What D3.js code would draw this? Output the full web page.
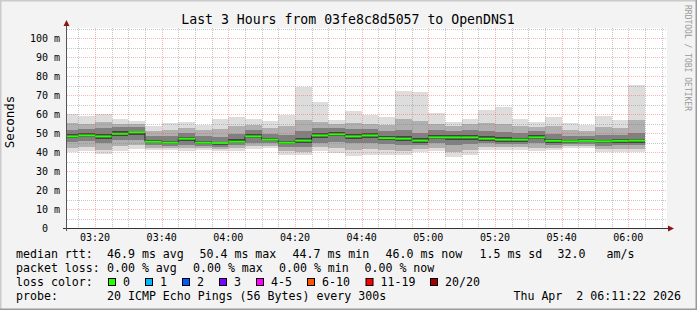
<!DOCTYPE html>
<html>
<head>
<meta charset="utf-8">
<script src="https://cdn.jsdelivr.net/npm/d3@7"></script>
<style>
  body { margin: 0; background: #f3f3f3; }
  svg { display: block; }
  text { font-family: "DejaVu Sans Mono", monospace; white-space: pre; fill: #000; }
</style>
</head>
<body>
<script>
// 5 minute steps, each value is the step ending at that slot
const slotStart = new Date(Date.UTC(2026, 3, 2, 3, 10));
const slotCount = 35;

const rttMedian = [48.2, 48.7, 48.2, 49.6, 50.4, 45.4, 44.9, 47.0, 44.9, 44.7, 45.4, 48.2, 46.5, 44.9, 46.0, 48.7, 49.3, 48.2, 48.7, 47.3, 47.0, 46.0, 47.7, 47.7, 47.7, 47.0, 46.5, 46.5, 47.7, 45.9, 45.6, 45.9, 45.6, 45.9, 46.0];
const rttMin = [40.0, 40.3, 38.9, 40.3, 41.7, 41.2, 41.2, 40.7, 40.9, 40.3, 40.7, 41.5, 42.1, 38.6, 38.6, 40.3, 39.5, 37.7, 38.6, 38.6, 38.6, 39.8, 40.3, 37.2, 38.6, 41.2, 41.2, 41.2, 40.3, 41.2, 42.1, 42.1, 40.0, 40.0, 40.0];
const rttMax = [60.1, 58.7, 59.8, 57.4, 56.5, 53.5, 55.2, 55.6, 54.4, 57.5, 58.4, 57.5, 56.1, 59.3, 74.0, 66.5, 57.0, 61.7, 59.3, 58.2, 72.3, 71.7, 60.6, 55.8, 57.5, 62.3, 63.9, 57.5, 55.7, 58.2, 55.2, 54.0, 59.1, 57.0, 75.4];
const rttP10 = [42.3, 42.8, 41.2, 43.0, 43.5, 42.3, 42.2, 42.0, 42.0, 41.5, 42.0, 43.0, 43.2, 40.5, 40.0, 42.5, 42.0, 41.0, 41.5, 41.0, 40.5, 41.5, 42.0, 40.0, 41.0, 42.5, 42.5, 42.5, 42.0, 42.3, 43.0, 43.0, 41.5, 41.5, 41.5];
const rttP25 = [45.3, 45.8, 44.5, 46.2, 46.5, 43.6, 43.2, 43.8, 43.2, 42.8, 43.5, 45.0, 44.5, 42.5, 42.5, 45.0, 45.5, 44.5, 45.0, 44.0, 43.5, 43.5, 44.5, 43.5, 44.0, 44.5, 44.0, 44.0, 44.5, 43.8, 44.0, 44.2, 43.3, 43.5, 43.5];
const rttP40 = [47.3, 47.8, 47.0, 48.5, 49.2, 44.8, 44.3, 46.0, 44.3, 43.9, 44.8, 47.2, 45.8, 44.0, 45.0, 47.5, 48.3, 47.0, 47.6, 46.3, 46.0, 45.0, 46.6, 46.5, 46.5, 46.0, 45.5, 45.5, 46.7, 45.0, 45.0, 45.2, 44.8, 45.0, 45.0];
const rttP60 = [49.3, 49.8, 49.5, 50.8, 51.2, 46.4, 46.0, 48.0, 46.0, 45.5, 46.8, 49.3, 47.5, 46.0, 47.5, 50.0, 50.3, 49.5, 49.8, 48.5, 48.3, 47.2, 48.8, 48.8, 49.0, 48.2, 47.8, 47.6, 48.8, 47.0, 46.5, 46.8, 46.5, 46.8, 47.0];
const rttP75 = [51.8, 52.3, 52.8, 53.0, 53.3, 48.3, 48.2, 50.0, 48.5, 48.0, 49.5, 51.5, 49.5, 49.0, 51.0, 52.5, 52.5, 52.0, 52.0, 51.0, 51.5, 50.0, 51.5, 51.0, 51.5, 51.0, 50.5, 50.0, 50.8, 49.5, 48.5, 48.5, 49.0, 49.0, 50.0];
const rttP90 = [55.2, 55.0, 56.0, 55.0, 55.0, 51.0, 51.5, 52.5, 51.5, 52.0, 53.5, 54.0, 52.5, 53.5, 57.0, 56.0, 54.5, 55.5, 55.0, 54.0, 57.5, 56.5, 55.0, 53.5, 54.5, 55.5, 55.0, 53.5, 53.0, 53.5, 51.5, 51.0, 53.0, 52.5, 57.0];

const yTicks = [0, 10, 20, 30, 40, 50, 60, 70, 80, 90, 100];
const lossLabels = ["0", "1", "2", "3", "4-5", "6-10", "11-19", "20/20"];
const lossColors = ["#26ff00", "#00b8ff", "#0059ff", "#7e00ff", "#ff00ff", "#ff5500", "#ff0000", "#a10000"];
const statsRtt = ["46.9 ms avg", "50.4 ms max", "44.7 ms min", "46.0 ms now", "1.5 ms sd", "32.0", "am/s"];
const statsLoss = ["0.00 % avg", "0.00 % max", "0.00 % min", "0.00 % now"];

const width = 697, height = 310;
const plotL = 67, plotR = 667, plotT = 28, plotB = 228;

const svg = d3.select("body").append("svg")
    .attr("width", width)
    .attr("height", height);

// frame
svg.append("rect").attr("width", width).attr("height", height).attr("fill", "#f3f3f3");
svg.append("path").attr("d", `M0,${height} V0 H${width}`).attr("fill", "none")
    .attr("stroke", "#cbcbcb").attr("stroke-width", 3);
svg.append("path").attr("d", `M0,${height} H${width} V0`).attr("fill", "none")
    .attr("stroke", "#999999").attr("stroke-width", 3);

const t0 = new Date(Date.UTC(2026, 3, 2, 3, 11, 36));
const t1 = new Date(Date.UTC(2026, 3, 2, 6, 11, 36));
const x = d3.scaleUtc().domain([t0, t1]).range([plotL, plotR]);
const y = d3.scaleLinear().domain([0, 200 / 1.9]).range([plotB, plotT]);

svg.append("rect").attr("x", plotL).attr("y", plotT)
    .attr("width", plotR - plotL).attr("height", plotB - plotT).attr("fill", "#ffffff");

const slots = d3.range(slotCount).map(i => {
    const end = d3.utcMinute.offset(slotStart, 5 * (i + 1));
    const start = d3.utcMinute.offset(end, -5);
    return {
        x0: Math.max(x(start), plotL), x1: x(end),
        med: rttMedian[i],
        bands: [[rttMin[i], rttMax[i]], [rttP10[i], rttP90[i]], [rttP25[i], rttP75[i]], [rttP40[i], rttP60[i]]]
    };
});

const bandColors = ["#dddddd", "#b0b0b0", "#808080", "#444444"];

const smoke = svg.append("g").attr("shape-rendering", "crispEdges");
bandColors.forEach((c, b) => {
    smoke.selectAll(null)
        .data(slots)
        .enter()
        .append("rect")
        .attr("x", d => d.x0)
        .attr("width", d => d.x1 - d.x0)
        .attr("y", d => y(d.bands[b][1]))
        .attr("height", d => y(d.bands[b][0]) - y(d.bands[b][1]))
        .attr("fill", c);
});

// thin dark median step line, then coloured median on top
const stepPts = [];
slots.forEach(d => { stepPts.push([d.x0, y(d.med)]); stepPts.push([d.x1, y(d.med)]); });
svg.append("path")
    .attr("d", d3.line()(stepPts))
    .attr("fill", "none").attr("stroke", "#202020").attr("stroke-width", 1);

svg.append("g").selectAll("line")
    .data(slots)
    .enter()
    .append("line")
    .attr("x1", d => d.x0).attr("x2", d => d.x1)
    .attr("y1", d => y(d.med)).attr("y2", d => y(d.med))
    .attr("stroke", lossColors[0]).attr("stroke-width", 2);

// grid
const grid = svg.append("g").attr("shape-rendering", "crispEdges");
const minorT = x.ticks(d3.utcMinute.every(5)).filter(t => t.getUTCMinutes() % 20 !== 0);
const majorT = x.ticks(d3.utcMinute.every(20));
const minorV = d3.range(5, 106, 10);
const majorV = yTicks.filter(v => v > 0);
const minorCol = "rgba(130,130,130,0.45)";
const majorCol = "rgba(255,60,60,0.38)";

grid.selectAll(null).data(minorT).enter().append("line")
    .attr("x1", d => Math.round(x(d)) + 0.5).attr("x2", d => Math.round(x(d)) + 0.5)
    .attr("y1", plotT).attr("y2", plotB)
    .attr("stroke", minorCol).attr("stroke-dasharray", "1,1");
grid.selectAll(null).data(minorV).enter().append("line")
    .attr("x1", plotL).attr("x2", plotR)
    .attr("y1", d => Math.round(y(d)) + 0.5).attr("y2", d => Math.round(y(d)) + 0.5)
    .attr("stroke", minorCol).attr("stroke-dasharray", "1,1");
grid.selectAll(null).data(majorT).enter().append("line")
    .attr("x1", d => Math.round(x(d)) + 0.5).attr("x2", d => Math.round(x(d)) + 0.5)
    .attr("y1", plotT).attr("y2", plotB)
    .attr("stroke", majorCol).attr("stroke-dasharray", "1,1");
grid.selectAll(null).data(majorV).enter().append("line")
    .attr("x1", plotL).attr("x2", plotR)
    .attr("y1", d => Math.round(y(d)) + 0.5).attr("y2", d => Math.round(y(d)) + 0.5)
    .attr("stroke", majorCol).attr("stroke-dasharray", "1,1");

// axes
svg.append("line").attr("x1", plotL - 4).attr("x2", plotR + 2).attr("y1", plotB + 0.5).attr("y2", plotB + 0.5)
    .attr("stroke", "#333").attr("stroke-width", 1);
svg.append("line").attr("x1", plotL - 0.5).attr("x2", plotL - 0.5).attr("y1", plotB + 3).attr("y2", plotT - 3)
    .attr("stroke", "#555").attr("stroke-width", 1);
svg.append("path").attr("d", `M${plotR + 1},${plotB - 2.5} L${plotR + 7},${plotB + 0.5} L${plotR + 1},${plotB + 3.5} Z`)
    .attr("fill", "#8b1515");
svg.append("path").attr("d", `M${plotL - 3.5},${plotT - 2} L${plotL - 0.5},${plotT - 8} L${plotL + 2.5},${plotT - 2} Z`)
    .attr("fill", "#8b1515");

svg.append("g").selectAll("text")
    .data(yTicks)
    .enter()
    .append("text")
    .attr("x", 60)
    .attr("y", d => y(d) + 3.5)
    .attr("text-anchor", "end")
    .style("font-size", "10px")
    .text(d => d === 0 ? "0  " : `${d} m`);

svg.append("g").selectAll("text")
    .data(majorT)
    .enter()
    .append("text")
    .attr("x", d => x(d))
    .attr("y", 241)
    .attr("text-anchor", "middle")
    .style("font-size", "10px")
    .text(d3.utcFormat("%H:%M"));

svg.append("text")
    .attr("x", 348).attr("y", 24)
    .attr("text-anchor", "middle")
    .style("font-size", "13.2px")
    .text("Last 3 Hours from 03fe8c8d5057 to OpenDNS1");

svg.append("text")
    .attr("transform", "translate(14,122) rotate(-90)")
    .attr("text-anchor", "middle")
    .style("font-size", "12.5px")
    .text("Seconds");

svg.append("text")
    .attr("transform", "translate(685,5) rotate(90)")
    .style("font-size", "8px")
    .style("fill", "#9a9a9a")
    .text("RRDTOOL / TOBI OETIKER");

// legend
const fs = "11.6px";
const row1 = [16, 107, 199.5, 292.5, 385.5, 479.5, 557.5, 606.5];
const row2 = [16, 107, 193, 279, 364.5];
const rows = [
    { y: 258, items: ["median rtt:"].concat(statsRtt), xs: row1 },
    { y: 272, items: ["packet loss:"].concat(statsLoss), xs: row2 }
];
rows.forEach(r => {
    svg.append("g").selectAll("text")
        .data(r.items)
        .enter()
        .append("text")
        .attr("x", (d, i) => r.xs[i])
        .attr("y", r.y)
        .style("font-size", fs)
        .text(d => d);
});

svg.append("text").attr("x", 16).attr("y", 286).style("font-size", fs).text("loss color:");
const boxX = [108.5, 145.5, 182.5, 219.5, 256.5, 307.5, 366, 430.5];
const lossG = svg.append("g").selectAll("g")
    .data(lossLabels)
    .enter()
    .append("g");
lossG.append("rect")
    .attr("x", (d, i) => boxX[i]).attr("y", 278.5)
    .attr("width", 7).attr("height", 7)
    .attr("fill", (d, i) => lossColors[i])
    .attr("stroke", "#000").attr("stroke-width", 1);
lossG.append("text")
    .attr("x", (d, i) => boxX[i] + 14.5)
    .attr("y", 286)
    .style("font-size", fs)
    .text(d => d);

svg.append("text").attr("x", 16).attr("y", 300).style("font-size", fs).text("probe:");
svg.append("text").attr("x", 107).attr("y", 300).style("font-size", fs)
    .text("20 ICMP Echo Pings (56 Bytes) every 300s");
svg.append("text").attr("x", 681).attr("y", 300).attr("text-anchor", "end").style("font-size", fs)
    .text("Thu Apr  2 06:11:22 2026");
</script>
</body>
</html>
